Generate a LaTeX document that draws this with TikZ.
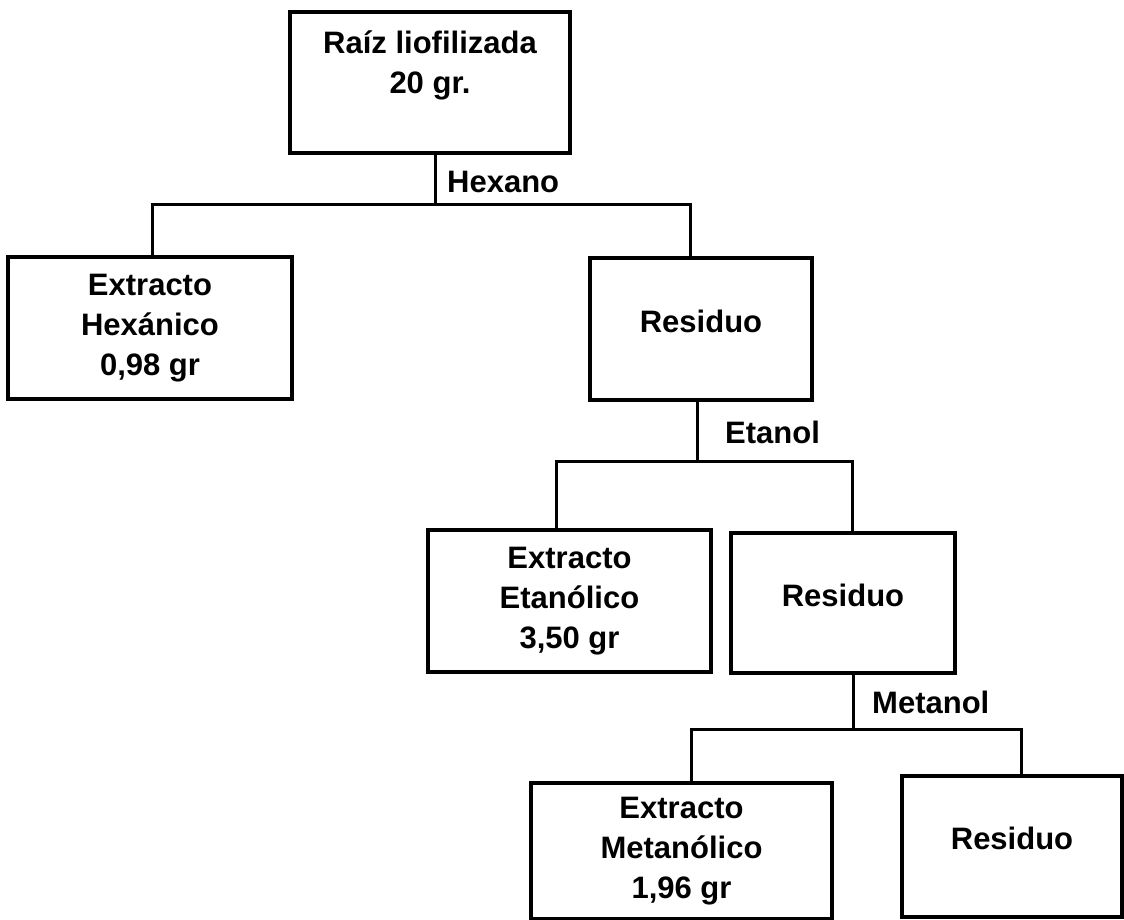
\documentclass[tikz,border=0pt]{standalone}
\usepackage{fontspec}
\setmainfont{Liberation Sans}
\usetikzlibrary{calc}

\begin{document}
\begin{tikzpicture}[x=1pt,y=-1pt,
  box/.style={draw,line width=3.6pt,align=center,inner sep=0pt,font=\bfseries\fontsize{31}{40}\selectfont},
  residuo/.style={box,text depth=16pt},
  solvent/.style={anchor=west,inner sep=0pt,font=\bfseries\fontsize{31}{40}\selectfont},
  link/.style={line width=3pt}]

\useasboundingbox (0,0) rectangle (1124,920);

% boxes
\node[box,minimum width=280pt,minimum height=141pt] (raiz) at (430,82.5) {Raíz liofilizada\\20 gr.\\\mbox{}};
\node[box,minimum width=284pt,minimum height=142pt] (hex) at (150,328) {Extracto\\Hexánico\\0,98 gr};
\node[residuo,minimum width=222pt,minimum height=142pt] (res1) at (701,329) {Residuo};
\node[box,minimum width=283pt,minimum height=142pt] (eta) at (569.5,601) {Extracto\\Etanólico\\3,50 gr};
\node[residuo,minimum width=224pt,minimum height=140pt] (res2) at (843,603) {Residuo};
\node[box,minimum width=301pt,minimum height=136pt] (met) at (681.5,851) {Extracto\\Metanólico\\1,96 gr};
\node[residuo,minimum width=220pt,minimum height=141pt] (res3) at (1012,846.5) {Residuo};

% hexano
\coordinate (jhex) at (435,205);
\draw[link] ([xshift=5pt]raiz.south) -- (jhex);
\draw[link] ([xshift=2pt]hex.north) |- (jhex) -| ([xshift=-11pt]res1.north);
\node[solvent] (hexano) at (447,182) {Hexano};

% etanol
\coordinate (jeta) at (697,461);
\draw[link] ([xshift=-4pt]res1.south) -- (jeta);
\draw[link] ([xshift=-13.5pt]eta.north) |- (jeta) -| ([xshift=9pt]res2.north);
\node[solvent] (etanol) at (725,432) {Etanol};

% metanol
\coordinate (jmet) at (853,729);
\draw[link] ([xshift=10pt]res2.south) -- (jmet);
\draw[link] ([xshift=9.5pt]met.north) |- (jmet) -| ([xshift=9pt]res3.north);
\node[solvent] (metanol) at (872,702) {Metanol};
\end{tikzpicture}
\end{document}
